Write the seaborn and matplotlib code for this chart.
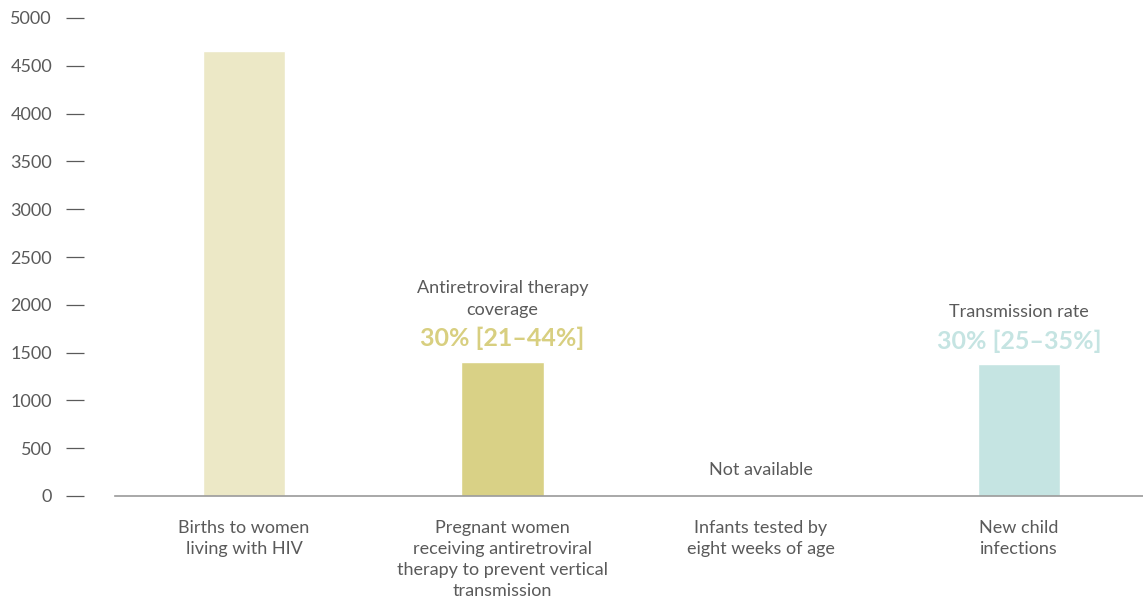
import numpy as np
import pandas as pd
import seaborn as sns
import matplotlib.pyplot as plt

categories = ["Births to women\nliving with HIV",
              "Pregnant women\nreceiving antiretroviral\ntherapy to prevent vertical\ntransmission",
              "Infants tested by\neight weeks of age",
              "New child\ninfections"]
values = [4650, 1400, np.nan, 1380]
bar_colors = ["#ece8c6", "#d9d186", "#ffffff", "#c5e4e2"]
yticks = [0, 500, 1000, 1500, 2000, 2500, 3000, 3500, 4000, 4500, 5000]

df = pd.DataFrame({"cat": categories, "val": values})

sns.set_style("white")
plt.rcParams["font.family"] = ["Lato", "DejaVu Sans"]

fig = plt.figure(figsize=(11.43, 6.02), dpi=100)
ax = fig.add_axes([115 / 1143, 106 / 602, 1033 / 1143, (496 - 18) / 602])
sns.barplot(data=df, x="cat", y="val", hue="cat", palette=bar_colors,
            width=0.32, legend=False, ax=ax, saturation=1)

ax.set_xlim(-0.5, 3.5)
ax.set_ylim(0, 5000)
ax.set_yticks(yticks)
ax.set_xlabel("")
ax.set_ylabel("")

for s in ["top", "right"]:
    ax.spines[s].set_visible(False)
ax.spines["left"].set_position(("outward", 22.3))
ax.spines["left"].set_visible(False)
ax.spines["bottom"].set_color("#9a9a9a")
ax.spines["bottom"].set_linewidth(1.2)

grey = "#5a5a5a"
ax.tick_params(axis="y", direction="out", length=13, width=0.9, color=grey,
               pad=10, labelsize=13, labelcolor=grey, left=True)
ax.tick_params(axis="x", length=0, pad=17, labelsize=13, labelcolor=grey)
for lab in ax.get_xticklabels():
    lab.set_linespacing(1.4)

ax.text(1.0, 2060, "Antiretroviral therapy\ncoverage", ha="center", va="center",
        fontsize=13, color=grey, linespacing=1.4)
ax.text(1.0, 1653, "30% [21\u201344%]", ha="center", va="center",
        fontsize=18, fontweight="bold", color="#d8cf80")
ax.text(3.0, 1925, "Transmission rate", ha="center", va="center",
        fontsize=13, color=grey)
ax.text(3.0, 1621, "30% [25\u201335%]", ha="center", va="center",
        fontsize=18, fontweight="bold", color="#c5e4e2")
ax.text(2.0, 272, "Not available", ha="center", va="center",
        fontsize=13, color=grey)

fig.savefig("out.png", dpi=100)
